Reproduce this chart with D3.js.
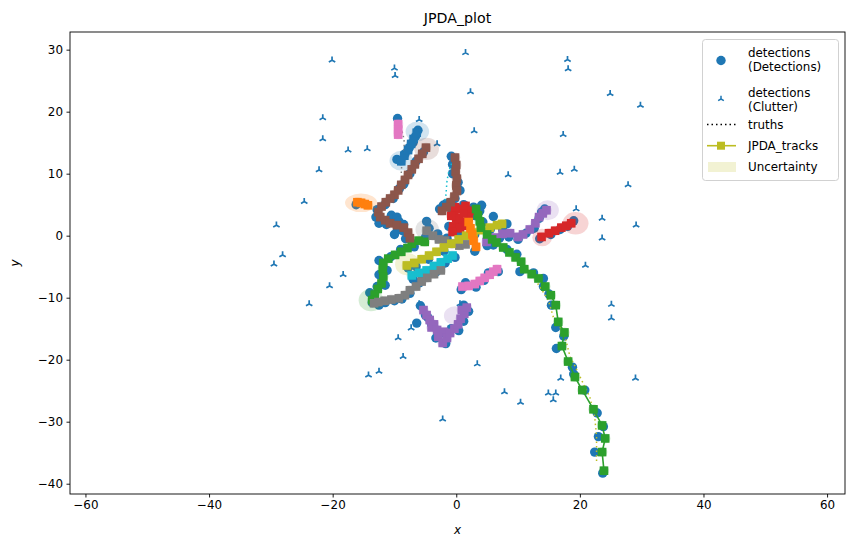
<!DOCTYPE html>
<html>
<head>
<meta charset="utf-8">
<script src="https://cdn.jsdelivr.net/npm/d3@7"></script>
<style>
  body { margin: 0; background: #fff; }
  svg text { font-family: "DejaVu Sans", sans-serif; fill: #000; }
</style>
</head>
<body>
<svg id="chart" width="854" height="547"></svg>
<script>
// ---- data (data units) ----

// clutter detections
var clutter = [
  [-20.1, 28.3], [-21.6, 19.0], [-21.6, 15.6], [-17.5, 13.8], [-22.2, 10.6], [-24.6, 5.5],
  [-29.1, 1.7], [-28.1, -3.1], [-29.5, -4.6], [-20.5, -8.1], [-18.3, -6.3], [-23.8, -11.0],
  [1.5, 29.5], [-10.0, 27.0], [-9.9, 25.8], [18.0, 28.4], [18.1, 26.9], [2.3, 23.2],
  [24.9, 22.9], [29.8, 21.0], [-6.0, 18.7], [2.9, 16.9], [17.3, 16.3], [-14.4, 14.0],
  [-3.1, 14.8], [8.4, 9.8], [16.8, 10.2], [19.1, 10.7], [27.8, 8.2], [19.4, 4.3],
  [23.6, 2.8], [29.1, 1.7], [23.6, -0.4], [20.9, -4.8], [25.1, -11.1], [25.1, -13.3],
  [29.0, -23.0], [16.9, -23.0], [14.9, -25.4], [16.1, -25.4], [15.7, -26.5], [7.8, -25.2],
  [10.4, -26.9], [3.4, -20.7], [-2.2, -29.6], [-8.6, -19.5], [-9.4, -16.5], [-7.3, -14.9],
  [-14.2, -22.5], [-12.5, -21.9], [-6.0, -11.0], [0.6, -11.0]
];

// target detections
var detections = [
  [-9.5, 18.9], [-6.2, 17.0], [-6.6, 16.0], [-7.0, 15.0], [-7.6, 14.2], [-8.3, 13.2], [-9.0, 12.1], [-9.6, 12.3],
  [-5.3, 13.5], [-6.5, 12.0], [-7.5, 10.0], [-8.5, 8.3], [-9.2, 7.6], [-10.2, 6.0], [-11.5, 5.0], [-12.8, 4.2],
  [-13.0, 3.0], [-12.5, 2.0], [-11.3, 1.8], [-10.5, 3.3], [-9.6, 3.0], [-9.3, 2.3], [-8.7, 0.8], [-8.2, -0.5],
  [-8.5, 1.8], [-9.5, 1.0], [-10.0, 0.2], [-4.8, 2.3], [-16.2, 5.0],
  [-0.8, 12.8], [-0.6, 11.5], [-0.6, 10.0], [0.3, 8.6], [0.6, 7.3], [-0.2, 6.0], [-1.4, 5.0], [-2.1, 4.9], [-2.7, 4.3],
  [1.2, 5.0], [-0.8, 4.3], [2.8, 4.6], [-1.2, 1.5], [0.5, 0.6], [3.2, 3.2], [4.1, 4.9], [6.0, 3.1], [-1.6, 5.2],
  [-7.8, -5.2], [-6.5, -5.0], [-4.5, -3.8], [-2.0, -2.5], [0.5, -0.2], [3.0, 0.2], [5.5, 1.0], [7.5, 1.0], [8.2, 1.9],
  [5.0, -1.6], [7.0, -0.4], [8.5, -0.2], [10.0, -0.6], [11.3, 0.4], [12.6, 1.2], [13.4, 2.8], [13.8, 3.8], [14.3, 4.3],
  [13.5, -0.5], [15.3, 0.2], [16.8, 1.0], [18.0, 1.5], [19.0, 2.4],
  [6.0, -1.5], [8.2, -2.2], [9.8, -3.0], [10.3, -5.8], [12.5, -6.0], [14.1, -6.9], [14.1, -8.2], [15.0, -9.4],
  [15.4, -11.2], [16.1, -14.8], [17.4, -16.2], [16.2, -18.2], [18.8, -21.2], [19.0, -22.3], [20.8, -24.9],
  [22.8, -28.6], [23.8, -30.8], [23.0, -32.4], [22.4, -34.9], [23.7, -38.3],
  [-5.0, -0.3], [-6.8, -1.8], [-9.0, -2.2], [-10.6, -3.4], [-12.5, -4.0], [-11.2, -5.6], [-12.5, -6.3],
  [-11.5, -8.0], [-12.8, -8.2], [-14.0, -9.2], [-13.6, -10.8],
  [-6.0, -7.6], [-7.5, -9.3], [-8.8, -10.2], [-10.0, -10.5], [-11.5, -10.8], [-12.5, -11.2], [-5.2, -6.5], [-3.2, -5.8],
  [-7.0, -7.0], [-5.5, -6.5], [-3.8, -5.5], [-1.8, -4.4], [-0.2, -3.5],
  [0.8, -8.7], [1.5, -7.6], [3.2, -8.3], [4.5, -7.2], [5.2, -6.0], [6.8, -5.8],
  [-5.8, -11.3], [-5.0, -12.8], [-4.0, -14.3], [-4.6, -13.2], [-6.4, -14.1], [-2.5, -15.7], [-3.3, -16.5],
  [-1.7, -17.4], [-0.8, -15.0], [0.4, -15.3], [1.2, -13.8], [2.0, -12.2], [1.2, -11.2],
  [3.8, 4.0], [4.3, 2.2], [3.0, -2.5], [-4.4, 1.2], [-3.0, 0.3], [-1.5, -0.4]
];

// ground truths
var truthArc = [[4.5, 1.0], [6.5, -1.0], [8.5, -2.6], [10.5, -4.3], [12.1, -6.1], [13.5, -8.2], [14.9, -10.4],
  [15.7, -13.1], [16.8, -14.8], [17.6, -16.3], [18.4, -19.5], [19.2, -21.0], [20.0, -22.7], [21.6, -26.0],
  [22.4, -29.2], [22.7, -32.4], [22.7, -36.4]];
var truthVertical = [[-0.5, 12.3], [-1.0, 11.0], [-1.3, 10.0], [-1.5, 8.8], [-1.6, 7.5], [-1.7, 6.3], [-2.0, 5.0]];
var truthTop = [[-9.0, 17.5], [-8.6, 16.3], [-8.4, 15.0], [-8.5, 13.5], [-8.8, 12.0], [-8.9, 10.0]];

// JPDA tracks
var trackBlue = [[-8.9, 12.0], [-8.4, 12.9], [-7.8, 13.8], [-7.3, 14.8], [-6.9, 15.6], [-6.4, 16.6]];
var trackOrangeL = [[-16.0, 5.4], [-15.4, 5.3], [-14.8, 5.1], [-14.3, 4.9]];
var trackGreenL = [[-5.1, -1.0], [-6.1, -0.8], [-7.2, -1.3], [-7.9, -2.0], [-8.9, -2.6], [-9.9, -3.1], [-11.0, -3.7],
  [-11.8, -4.4], [-11.9, -5.4], [-11.8, -6.6], [-12.1, -7.7], [-12.7, -8.6], [-13.2, -9.5], [-13.6, -10.4]];
var trackRedC = [[-0.5, 1.5], [0.3, 2.5], [-0.3, 3.5], [0.5, 4.3], [1.5, 4.8], [2.3, 4.0], [2.0, 3.0], [1.0, 2.2],
  [0.0, 2.8], [-0.8, 3.2], [-0.2, 4.6], [1.2, 3.6], [0.6, 1.2], [1.6, 1.6], [-0.6, 0.6]];
var trackPurpleR = [[4.9, -1.0], [6.2, -0.3], [7.5, 0.3], [8.7, 0.4], [10.0, -0.2], [10.8, 0.2], [11.9, 1.0],
  [12.8, 2.0], [13.4, 3.0], [14.0, 3.6], [14.6, 4.1]];
var trackBrown1 = [[-4.9, 14.2], [-5.5, 13.2], [-6.1, 12.4], [-6.7, 11.5], [-7.2, 10.7], [-7.8, 9.8], [-8.3, 9.0],
  [-8.9, 8.2], [-9.4, 7.3], [-10.0, 6.6], [-10.7, 6.0], [-11.4, 5.4], [-12.1, 4.7], [-12.6, 3.8], [-12.3, 3.0],
  [-11.5, 2.5], [-10.7, 2.0], [-9.6, 1.7], [-8.5, 1.3], [-7.8, 0.5], [-7.5, -0.4]];
var trackBrown2 = [[-0.2, 12.6], [0.0, 11.4], [-0.1, 10.3], [0.1, 9.2], [0.0, 8.1], [0.1, 7.2], [-0.3, 6.3],
  [-0.9, 5.4], [-1.6, 4.6], [-2.3, 4.0]];
var trackPinkT = [[-9.4, 18.0], [-9.4, 17.1], [-9.4, 16.3]];
var trackGrayA = [[-4.8, 0.8], [-3.8, 0.0], [-2.8, -0.6], [-1.8, -0.8], [-0.6, -1.3], [0.5, -1.6], [1.5, -1.4]];
var trackOlive = [[-8.0, -4.8], [-6.8, -4.4], [-5.6, -3.8], [-4.4, -3.2], [-3.2, -2.6], [-2.0, -1.9], [-0.8, -1.3],
  [0.4, -0.6], [1.6, 0.0], [2.8, 0.5], [4.0, 0.9], [5.4, 1.3], [6.6, 1.7], [7.4, 1.9]];
var trackCyan = [[-7.2, -6.4], [-6.0, -6.0], [-4.8, -5.6], [-3.6, -4.9], [-2.5, -4.3], [-1.4, -3.7], [-0.6, -3.2]];
var trackGrayB = [[-2.5, -5.6], [-3.6, -6.2], [-4.7, -6.8], [-5.6, -7.4], [-6.5, -8.2], [-7.5, -8.8], [-8.3, -9.6],
  [-9.3, -10.1], [-10.5, -10.3], [-11.6, -10.5], [-12.6, -10.7], [-13.3, -10.9]];
var trackOrangeC = [[2.0, 2.2], [2.3, 1.2], [2.6, 0.2], [2.8, -0.8], [3.2, -1.8]];
var trackGreenC = [[3.2, 4.3], [3.5, 3.3], [3.8, 2.3], [4.0, 1.3]];
var trackArc = [[5.0, 0.2], [5.8, -0.6], [6.5, -1.1], [7.6, -1.9], [8.6, -2.7], [9.6, -3.5], [10.5, -4.2], [11.0, -5.4],
  [12.2, -6.2], [13.3, -6.9], [14.4, -8.2], [15.3, -9.6], [16.1, -11.2], [16.5, -13.9], [17.5, -15.6], [17.1, -17.8],
  [18.1, -20.3], [19.2, -22.8], [20.4, -24.9], [22.2, -28.0], [23.6, -30.6], [24.1, -32.7], [23.6, -34.9], [23.9, -37.9]];
var trackRedR = [[13.8, -0.2], [15.0, 0.4], [16.0, 0.8], [17.0, 1.3], [17.8, 1.6], [18.6, 2.0]];
var trackPinkB = [[1.0, -8.2], [2.0, -8.1], [3.0, -7.8], [3.8, -7.3], [4.6, -6.8], [5.4, -6.3], [6.0, -5.8], [6.6, -5.4]];
var trackPurpleB = [[-5.3, -12.0], [-4.8, -12.8], [-4.3, -13.6], [-3.6, -14.3], [-4.0, -14.8], [-3.1, -15.2],
  [-2.9, -16.3], [-2.2, -17.3], [-2.0, -15.5], [-1.5, -16.5], [-1.0, -15.7], [-0.3, -15.0], [0.3, -14.3],
  [0.7, -13.4], [1.3, -12.6], [0.9, -12.0], [1.7, -11.6]];

// large covariance ellipses: x, y, semi-axis x, semi-axis y
var ellipseBlue = [[-6.3, 16.8, 1.9, 1.6], [-8.9, 12.1, 1.9, 1.6]];
var ellipseBrown = [[-4.8, 14.0, 2.0, 1.8]];
var ellipseOrange = [[-15.4, 5.3, 2.6, 1.5]];
var ellipseOlive = [[-7.9, -4.6, 2.0, 1.8]];
var ellipseGreen = [[-13.8, -10.4, 2.0, 1.8]];
var ellipseGray = [[-4.7, 1.0, 1.9, 1.7]];
var ellipsePurple = [[14.8, 4.1, 1.8, 1.6], [-0.2, -12.9, 1.8, 1.5]];
var ellipseRed = [[19.3, 2.0, 2.1, 1.8], [13.9, -0.3, 1.6, 1.4]];

var xTicks = [-60, -40, -20, 0, 20, 40, 60];
var yTicks = [-40, -30, -20, -10, 0, 10, 20, 30];

// ---- colours (matplotlib tab10) ----
var C = { blue: "#1f77b4", orange: "#ff7f0e", green: "#2ca02c", red: "#d62728", purple: "#9467bd",
          brown: "#8c564b", pink: "#e377c2", gray: "#7f7f7f", olive: "#bcbd22", cyan: "#17becf" };

var tracks = [
  [trackBlue, C.blue], [trackOrangeL, C.orange], [trackGreenL, C.green], [trackRedC, C.red],
  [trackPurpleR, C.purple], [trackBrown1, C.brown], [trackPinkT, C.pink], [trackGrayA, C.gray],
  [trackOlive, C.olive], [trackCyan, C.cyan], [trackBrown2, C.brown], [trackOrangeC, C.orange],
  [trackGreenC, C.green], [trackRedR, C.red], [trackPurpleB, C.purple], [trackPinkB, C.pink],
  [trackGrayB, C.gray], [trackArc, C.green]
];
var truths = [[truthArc, C.olive], [truthVertical, C.cyan], [truthTop, C.gray]];
var ellipses = [[ellipseBlue, C.blue], [ellipseBrown, C.brown], [ellipseOrange, C.orange], [ellipseOlive, C.olive],
  [ellipseGreen, C.green], [ellipseGray, C.gray], [ellipsePurple, C.purple], [ellipseRed, C.red]];

// ---- svg setup ----
var svg = d3.select("#chart");
var plotL = 70, plotR = 845, plotT = 32, plotB = 494;

var xScale = d3.scaleLinear().domain([-62.5, 62.9]).range([plotL, plotR]);
var yScale = d3.scaleLinear().domain([-41.66, 32.85]).range([plotB, plotT]);
var pxPerUnitX = xScale(1) - xScale(0), pxPerUnitY = yScale(0) - yScale(1);

svg.append("defs").append("clipPath").attr("id", "plotclip")
  .append("rect").attr("x", plotL).attr("y", plotT).attr("width", plotR - plotL).attr("height", plotB - plotT);

var plot = svg.append("g").attr("clip-path", "url(#plotclip)");

// tri_up marker path
function triUp(r) {
  return "M0,0L0," + (-r) + "M0,0L" + (-r * 0.866) + "," + (r * 0.5) + "M0,0L" + (r * 0.866) + "," + (r * 0.5);
}

// detections
plot.append("g").selectAll("circle")
  .data(detections)
  .enter().append("circle")
    .attr("cx", function(d) { return xScale(d[0]); })
    .attr("cy", function(d) { return yScale(d[1]); })
    .attr("r", 4.7)
    .attr("fill", C.blue);

// clutter
plot.append("g").selectAll("path")
  .data(clutter)
  .enter().append("path")
    .attr("transform", function(d) { return "translate(" + xScale(d[0]) + "," + yScale(d[1]) + ")"; })
    .attr("d", triUp(3.7))
    .attr("stroke", C.blue)
    .attr("stroke-width", 1.7)
    .attr("fill", "none");

// uncertainty ellipses: small ones around every track state, plus the big ones
tracks.forEach(function(t) {
  plot.append("g").selectAll("ellipse")
    .data(t[0])
    .enter().append("ellipse")
      .attr("cx", function(d) { return xScale(d[0]); })
      .attr("cy", function(d) { return yScale(d[1]); })
      .attr("rx", 0.85 * pxPerUnitX)
      .attr("ry", 0.8 * pxPerUnitY)
      .attr("fill", t[1])
      .attr("fill-opacity", 0.2);
});
ellipses.forEach(function(e) {
  plot.append("g").selectAll("ellipse")
    .data(e[0])
    .enter().append("ellipse")
      .attr("cx", function(d) { return xScale(d[0]); })
      .attr("cy", function(d) { return yScale(d[1]); })
      .attr("rx", function(d) { return d[2] * pxPerUnitX; })
      .attr("ry", function(d) { return d[3] * pxPerUnitY; })
      .attr("fill", e[1])
      .attr("fill-opacity", 0.2);
});

var line = d3.line()
  .x(function(d) { return xScale(d[0]); })
  .y(function(d) { return yScale(d[1]); });

// truths (dotted)
truths.forEach(function(t) {
  plot.append("path")
    .datum(t[0])
    .attr("d", line)
    .attr("fill", "none")
    .attr("stroke", t[1])
    .attr("stroke-width", 1.5)
    .attr("stroke-dasharray", "1.5,3");
});

// tracks
tracks.forEach(function(t) {
  var g = plot.append("g");
  g.append("path")
    .datum(t[0])
    .attr("d", line)
    .attr("fill", "none")
    .attr("stroke", t[1])
    .attr("stroke-width", 1.6);
  g.selectAll("rect")
    .data(t[0])
    .enter().append("rect")
      .attr("x", function(d) { return xScale(d[0]) - 4.3; })
      .attr("y", function(d) { return yScale(d[1]) - 4.3; })
      .attr("width", 8.6)
      .attr("height", 8.6)
      .attr("fill", t[1]);
});

// ---- axes ----
function minus(v) { return v < 0 ? "\u2212" + Math.abs(v) : "" + v; }

var xAxis = svg.append("g")
  .attr("transform", "translate(0," + plotB + ")")
  .call(d3.axisBottom(xScale).tickValues(xTicks).tickSize(3.5).tickPadding(3.5).tickFormat(minus));
var yAxis = svg.append("g")
  .attr("transform", "translate(" + plotL + ",0)")
  .call(d3.axisLeft(yScale).tickValues(yTicks).tickSize(3.5).tickPadding(3.5).tickFormat(minus));
[xAxis, yAxis].forEach(function(a) {
  a.select(".domain").remove();
  a.selectAll("text").attr("font-family", "DejaVu Sans").attr("font-size", 11.9).attr("fill", "#000");
  a.selectAll("line").attr("stroke", "#000").attr("stroke-width", 0.9);
});

svg.append("rect")
  .attr("x", plotL).attr("y", plotT)
  .attr("width", plotR - plotL).attr("height", plotB - plotT)
  .attr("fill", "none").attr("stroke", "#000").attr("stroke-width", 0.9);

svg.append("text")
  .attr("x", (plotL + plotR) / 2).attr("y", 23)
  .attr("text-anchor", "middle").attr("font-size", 14.2)
  .text("JPDA_plot");
svg.append("text")
  .attr("x", (plotL + plotR) / 2).attr("y", 534)
  .attr("text-anchor", "middle").attr("font-size", 11.9).attr("font-style", "italic")
  .text("x");
svg.append("text")
  .attr("transform", "translate(19," + ((plotT + plotB) / 2) + ") rotate(-90)")
  .attr("text-anchor", "middle").attr("font-size", 11.9).attr("font-style", "italic")
  .text("y");

// ---- legend ----
var lg = svg.append("g");
lg.append("rect")
  .attr("x", 702.5).attr("y", 39.5).attr("width", 136).attr("height", 141).attr("rx", 3)
  .attr("fill", "#fff").attr("fill-opacity", 0.8).attr("stroke", "#ccc").attr("stroke-width", 0.9);

lg.append("circle").attr("cx", 721).attr("cy", 60.5).attr("r", 4.7).attr("fill", C.blue);
lg.append("path").attr("transform", "translate(721,99)").attr("d", triUp(3.3))
  .attr("stroke", C.blue).attr("stroke-width", 1.5).attr("fill", "none");
lg.append("line").attr("x1", 707).attr("x2", 736).attr("y1", 124.5).attr("y2", 124.5)
  .attr("stroke", "#000").attr("stroke-width", 1.5).attr("stroke-dasharray", "1.5,3");
lg.append("line").attr("x1", 707).attr("x2", 736).attr("y1", 145.7).attr("y2", 145.7)
  .attr("stroke", C.olive).attr("stroke-width", 1.6);
lg.append("rect").attr("x", 717).attr("y", 141.7).attr("width", 8).attr("height", 8).attr("fill", C.olive);
lg.append("rect").attr("x", 708).attr("y", 162).attr("width", 28).attr("height", 10)
  .attr("fill", C.olive).attr("fill-opacity", 0.2);

var legendLines = [["detections", 57], ["(Detections)", 71], ["detections", 97], ["(Clutter)", 111],
  ["truths", 129], ["JPDA_tracks", 150.4], ["Uncertainty", 170.6]];
lg.selectAll("text.lbl")
  .data(legendLines)
  .enter().append("text")
    .attr("class", "lbl")
    .attr("x", 748)
    .attr("y", function(d) { return d[1]; })
    .attr("font-size", 11.9)
    .text(function(d) { return d[0]; });
</script>
</body>
</html>
